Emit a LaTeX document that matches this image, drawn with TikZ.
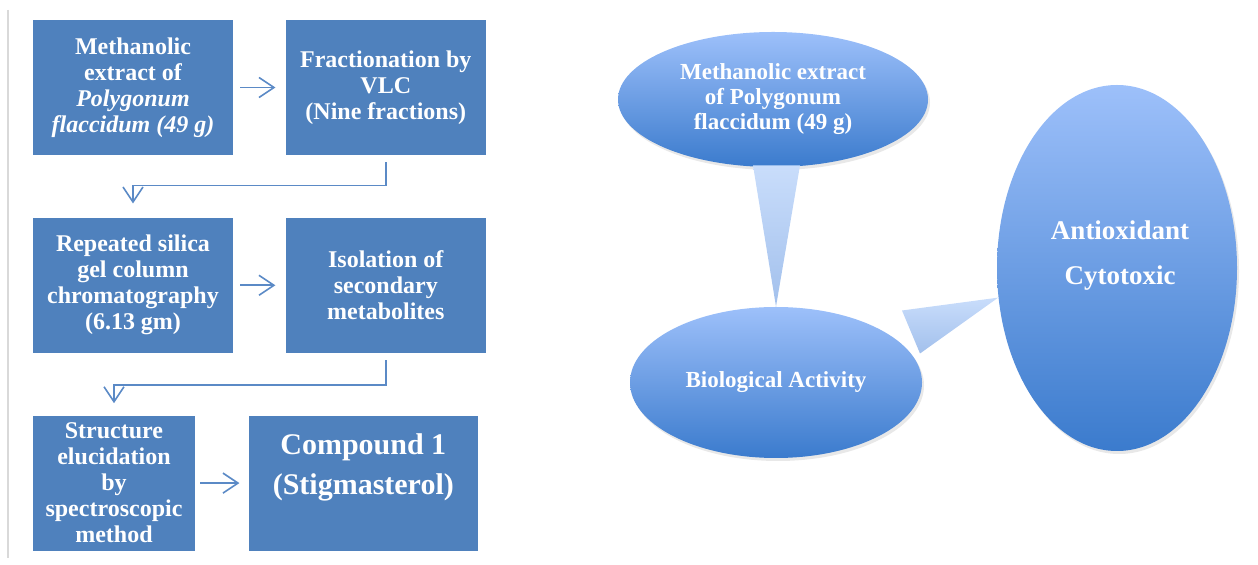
\documentclass[tikz,border=0pt]{standalone}
\usepackage{fontspec}
\setmainfont{Liberation Serif}
\usetikzlibrary{arrows.meta, positioning, calc, shapes.geometric, shadows}
\definecolor{boxblue}{HTML}{4F81BD}
\definecolor{arrowblue}{HTML}{5B8AC6}
\definecolor{elltop}{HTML}{9DC0FA}
\definecolor{ellbot}{HTML}{3B7BCD}
\definecolor{wedgetop}{HTML}{C9DDFB}
\definecolor{wedgebot}{HTML}{A2C0EC}
\tikzset{
  stage/.style={fill=boxblue, text=white, align=center, inner sep=2pt, minimum width=100pt, minimum height=67.5pt, font=\bfseries\fontsize{12}{13}\selectfont},
  bubble/.style={ellipse, inner sep=0pt, top color=elltop, bottom color=ellbot, text=white, align=center, drop shadow={opacity=0.18, shadow xshift=1pt, shadow yshift=-1.5pt}},
  bubbletext/.style={text=white, align=center},
  flow/.style={-{Straight Barb[length=7.5pt, width=10pt]}, line width=0.8pt, arrowblue},
  wedge/.style={top color=wedgetop, bottom color=wedgebot},
  every node/.style={font=\bfseries}
}
\begin{document}
\begin{tikzpicture}[x=0.5pt, y=-0.5pt]
    \useasboundingbox (0,0) rectangle (1258,565);
    \draw[black!15, line width=0.6pt] (8,10) -- (8,558);

    % flow chart
    \node[stage] (extract) at (133,87.5) {Methanolic\\extract of\\\textit{Polygonum}\\\textit{flaccidum (49 g)}};
    \node[stage, right=26pt of extract] (vlc) {Fractionation by\\VLC\\(Nine fractions)};
    \node[stage, below=31pt of extract] (silica) {Repeated silica\\gel column\\chromatography\\(6.13 gm)};
    \node[stage, right=26pt of silica] (isolate) {Isolation of\\secondary\\metabolites};
    \node[stage, minimum width=81pt, below right=31pt and 0pt of silica.south west] (elucid) {Structure\\elucidation\\by\\spectroscopic\\method};
    \node[stage, minimum width=114.5pt, right=26.5pt of elucid] (compound) {};
    \node[bubbletext, font=\bfseries\fontsize{15}{20}\selectfont] (cmptext) at ([yshift=8pt]compound.center) {Compound 1\\(Stigmasterol)};

    \draw[flow, shorten <=3.5pt, shorten >=5pt] (extract) -- (vlc);
    \draw[flow] ([yshift=-3.5pt]vlc.south) -- ++(0,-11.5pt) -| ([yshift=7pt]silica.north);
    \draw[flow, shorten <=3.5pt, shorten >=5pt] (silica) -- (isolate);
    \draw[flow] ([yshift=-3.5pt]isolate.south) -- ++(0,-12.5pt) -| ([yshift=6pt]elucid.north);
    \draw[flow, shorten <=2.5pt, shorten >=4.5pt] (elucid) -- (compound);

    % bubbles
    \node[bubble, minimum width=155pt, minimum height=67.5pt, font=\bfseries\fontsize{11.5}{12.5}\selectfont] (extractoval) at (773,99.5) {Methanolic extract\\of Polygonum\\flaccidum (49 g)};
    \node[bubble, minimum width=146pt, minimum height=75.5pt, font=\bfseries\fontsize{11.5}{13}\selectfont] (bioact) at (776,382.5) {Biological Activity};
    \node[bubble, minimum width=120pt, minimum height=183pt] (activity) at (1117,268) {};
    \node[bubbletext, font=\bfseries\fontsize{13.5}{22.5}\selectfont] (acttext) at ([xshift=1.5pt, yshift=6pt]activity.center) {Antioxidant\\Cytotoxic};

    \shade[wedge] ($(extractoval.south)+(-20,-2)$) -- ($(extractoval.south)+(27,-2)$) -- (bioact.north) -- cycle;
    \shade[wedge] ($(bioact.center)+(126,-72)$) -- ($(bioact.center)+(144,-29)$) -- (activity.194) -- cycle;
\end{tikzpicture}
\end{document}
